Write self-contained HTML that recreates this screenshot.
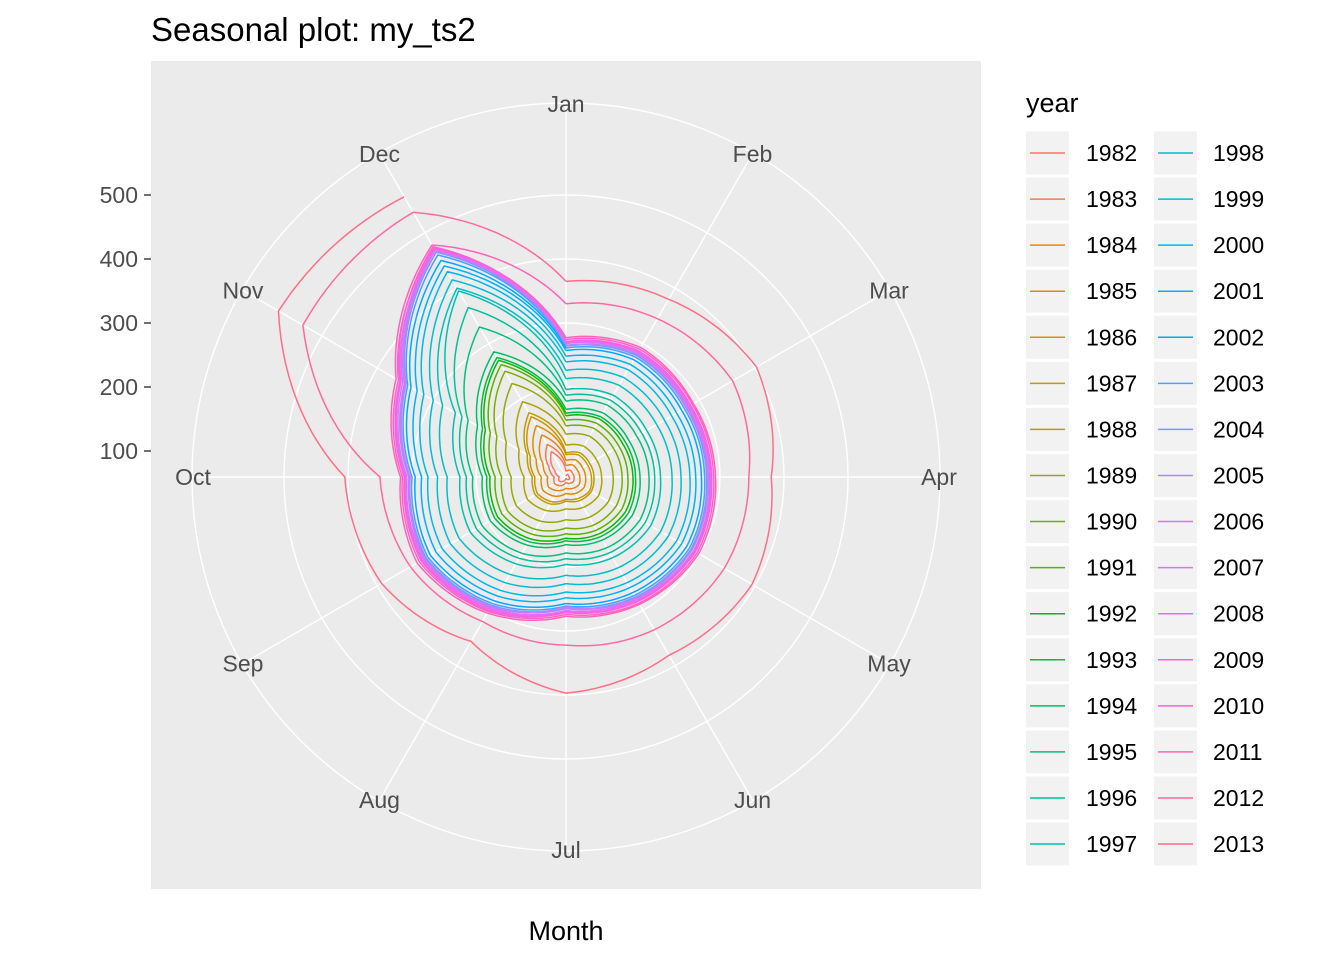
<!DOCTYPE html>
<html><head><meta charset="utf-8"><style>
body{margin:0;background:#fff;}
svg text{font-family:"Liberation Sans",Arial,sans-serif;}
</style></head><body>
<svg id="chart" width="1344" height="960" xmlns="http://www.w3.org/2000/svg">
<rect width="1344" height="960" fill="#fff"/>
<rect x="151" y="61" width="830" height="828" fill="#ebebeb"/>
<g id="grid"></g>
<g id="lines"></g>
<g id="labels"></g>
<text x="151" y="41" font-size="33" fill="#000">Seasonal plot: my_ts2</text>
<text x="566" y="940" font-size="27" fill="#000" text-anchor="middle">Month</text>
<text x="1026" y="112" font-size="27" fill="#000">year</text>
<g id="legend"></g>
</svg>
<script>
const months=["Jan","Feb","Mar","Apr","May","Jun","Jul","Aug","Sep","Oct","Nov","Dec"];
const years=[1982,1983,1984,1985,1986,1987,1988,1989,1990,1991,1992,1993,1994,1995,1996,1997,1998,1999,2000,2001,2002,2003,2004,2005,2006,2007,2008,2009,2010,2011,2012,2013];
const rTicks=[100,200,300,400,500];
const v1982=[61,64,64,64,66,64,61,67,72,70,80,105];
const v1983=[68,72,71,72,73,71,68,75,80,78,90,118];
const v1984=[77,81,80,81,83,80,77,84,91,88,101,135];
const v1985=[85,90,89,90,92,89,85,94,101,98,113,152];
const v1986=[94,99,98,99,102,98,94,104,111,108,124,168];
const v1987=[97,103,102,103,105,102,97,108,115,112,129,175];
const v1988=[109,115,114,115,118,114,109,120,129,125,144,195];
const v1989=[126,133,132,133,136,132,126,139,149,145,167,228];
const v1990=[139,147,146,147,150,146,139,154,165,160,184,250];
const v1991=[148,156,155,156,160,155,148,163,175,170,196,262];
const v1992=[155,164,162,164,167,162,155,171,183,178,205,270];
const v1993=[159,168,167,168,172,167,159,176,188,183,210,275];
const v1994=[165,175,173,175,179,173,165,182,196,190,219,285];
const v1995=[178,189,187,189,193,187,178,197,211,205,236,330];
const v1996=[187,198,196,198,202,196,187,206,221,215,247,365];
const v1997=[196,207,205,207,212,205,196,216,232,225,259,395];
const v1998=[213,225,223,225,230,223,213,235,252,245,282,400];
const v1999=[226,239,237,239,244,237,226,250,268,260,299,415];
const v2000=[239,253,250,253,259,250,239,264,283,275,316,430];
const v2001=[248,262,259,262,268,259,248,274,294,285,328,440];
const v2002=[257,271,268,271,277,268,257,283,304,295,339,450];
const v2003=[261,276,273,276,282,273,261,288,309,300,345,460];
const v2004=[264,279,276,279,285,276,264,291,312,303,348,465];
const v2005=[265,281,278,281,287,278,265,293,314,305,351,470];
const v2006=[268,283,276,284,290,280,262,295,316,303,349,468];
const v2007=[268,283,280,283,290,280,268,296,317,308,354,472];
const v2008=[270,285,282,285,291,282,270,298,319,310,357,470];
const v2009=[271,287,284,287,293,284,271,300,321,312,359,475];
const v2010=[274,290,287,290,296,287,274,302,324,315,362,473];
const v2011=[277,293,289,293,299,289,277,305,328,318,366,478];
const v2012=[330,345,360,345,345,335,322,320,340,350,534,537];
const v2013=[365,380,403,380,395,381,397,356,392,405,578,565];
const values=[v1982,v1983,v1984,v1985,v1986,v1987,v1988,v1989,v1990,v1991,v1992,v1993,v1994,v1995,v1996,v1997,v1998,v1999,v2000,v2001,v2002,v2003,v2004,v2005,v2006,v2007,v2008,v2009,v2010,v2011,v2012,v2013];

const NS="http://www.w3.org/2000/svg";
const cx=566, cy=477, outerR=374;
function rScale(v){return Math.max(0,26+(v-100)*0.64);}
function thetaScale(m){return m/12*2*Math.PI;}
function pt(m,v){const t=thetaScale(m),r=rScale(v);return [cx+r*Math.sin(t),cy-r*Math.cos(t)];}
function mk(tag,attrs,parent){const e=document.createElementNS(NS,tag);for(const k in attrs)e.setAttribute(k,attrs[k]);parent.appendChild(e);return e;}
function hcl(h){
  const L=65,C=100;const hr=h*Math.PI/180;const u=C*Math.cos(hr),v=C*Math.sin(hr);
  const Y=Math.pow((L+16)/116,3);const un=0.1978398,vn=0.4683363;
  const up=u/(13*L)+un,vp=v/(13*L)+vn;
  const X=Y*9*up/(4*vp),Z=Y*(12-3*up-20*vp)/(4*vp);
  let r=3.2404542*X-1.5371385*Y-0.4985314*Z,g=-0.9692660*X+1.8760108*Y+0.0415560*Z,b=0.0556434*X-0.2040259*Y+1.0572252*Z;
  const gm=c=>{c=c<=0.0031308?12.92*c:1.055*Math.pow(c,1/2.4)-0.055;return Math.round(Math.max(0,Math.min(1,c))*255);};
  return `rgb(${gm(r)},${gm(g)},${gm(b)})`;
}
const n=years.length;
const colors=years.map((y,i)=>hcl(15+360*i/n));

const grid=document.getElementById('grid');
rTicks.forEach(t=>{
  const c=mk('circle',{cx:cx,cy:cy,r:rScale(t),fill:'none',stroke:'#fff','stroke-width':1.4},grid);
  
  
});
const oc=mk('circle',{cx:cx,cy:cy,r:outerR,fill:'none',stroke:'#fff','stroke-width':1.4},grid);


months.forEach((m,i)=>{
  const t=thetaScale(i);
  const l=mk('line',{x1:cx,y1:cy,x2:cx+outerR*Math.sin(t),y2:cy-outerR*Math.cos(t),stroke:'#fff','stroke-width':1.4},grid);
  
  
});

const lines=document.getElementById('lines');
values.forEach((vals,yi)=>{
  const ptsData=vals.map((v,m)=>[m,v]);
  if(yi<n-1) ptsData.push([12,values[yi+1][0]]);
  let d='';
  for(let k=0;k<ptsData.length;k++){
    if(k===0){const p=pt(ptsData[0][0],ptsData[0][1]);d+='M'+p[0].toFixed(1)+','+p[1].toFixed(1);continue;}
    const a=ptsData[k-1],b=ptsData[k];
    for(let s=1;s<=15;s++){const f=s/15;const p=pt(a[0]+(b[0]-a[0])*f,a[1]+(b[1]-a[1])*f);d+='L'+p[0].toFixed(1)+','+p[1].toFixed(1);}
  }
  const p=mk('path',{d:d,fill:'none',stroke:colors[yi],'stroke-width':1.5},lines);
  
  
});

const labels=document.getElementById('labels');
months.forEach((m,i)=>{
  const t=thetaScale(i);const x=cx+373*Math.sin(t),y=cy-373*Math.cos(t);
  const tx=mk('text',{x:x,y:y+8,'font-size':23,fill:'#4d4d4d','text-anchor':'middle'},labels);
  tx.textContent=m;
  
  
});
rTicks.forEach(t=>{
  const y=cy-rScale(t);
  const tl=mk('text',{x:138,y:y+8,'font-size':23,fill:'#4d4d4d','text-anchor':'end'},labels);
  tl.textContent=t;
  
  
  const tk=mk('line',{x1:144,x2:151,y1:y,y2:y,stroke:'#333','stroke-width':1.4},labels);
  
  
});

const legend=document.getElementById('legend');
years.forEach((y,i)=>{
  const col=Math.floor(i/16),row=i%16;
  const kx=col===0?1026:1154,lx=col===0?1086:1213;
  const yc=153+row*46.07;
  const g=mk('g',{},legend);
  
  
  mk('rect',{x:kx,y:yc-21.5,width:43,height:43,fill:'#f2f2f2'},g);
  mk('line',{x1:kx+4,x2:kx+39,y1:yc,y2:yc,stroke:colors[i],'stroke-width':1.5},g);
  const tx=mk('text',{x:lx,y:yc+8,'font-size':23,fill:'#000'},g);
  tx.textContent=y;
});
</script>
</body></html>
